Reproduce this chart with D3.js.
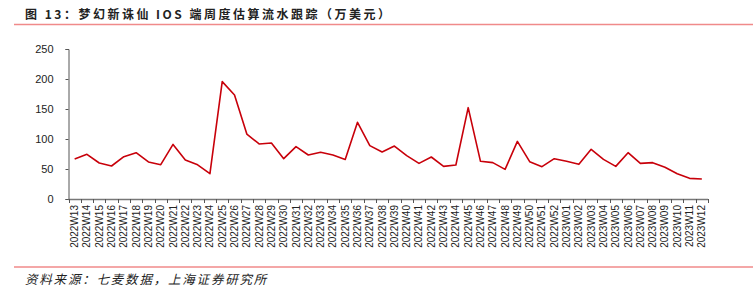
<!DOCTYPE html>
<html>
<head>
<meta charset="utf-8">
<script src="https://cdn.jsdelivr.net/npm/d3@7"></script>
<style>
  body { margin: 0; background: #fff; }
  svg { display: block; }
</style>
</head>
<body>
<div id="chart"></div>
<script>
// weekly estimated iOS revenue, 万美元
let weeks = []
for (let w = 13; w <= 52; w++) weeks.push('2022W' + w)
for (let w = 1; w <= 12; w++) weeks.push('2023W' + (w < 10 ? '0' + w : w))

let revenue = [
  66.7, 74.4, 60, 55, 70.6, 77.2, 61.7, 57.2, 91, 65,
  57, 42.2, 195.6, 173.3, 108.3, 91.7, 93.3, 67.2, 87.2, 73.3,
  77.8, 73.3, 66, 127.8, 88.9, 78.3, 88.3, 72.2, 59.4, 70,
  54.4, 56.7, 152.2, 62.8, 60.6, 49.4, 96, 62.2, 53.9, 67.2,
  62.8, 57.8, 82.8, 66, 54.4, 77.2, 59.4, 60.6, 52.8, 42.2,
  34.4, 33.3
]

let yTicks = [0, 50, 100, 150, 200, 250]

let titleText = '图 13：梦幻新诛仙 IOS 端周度估算流水跟踪（万美元）'
let sourceText = '资料来源：七麦数据，上海证券研究所'

let width = 753, height = 296

let svg = d3.select('#chart').append('svg')
    .attr('width', width)
    .attr('height', height)

let plot = {left: 68.5, right: 708, top: 49, bottom: 199}

// title + rule
svg.append('text')
    .attr('x', 25)
    .attr('y', 19)
    .attr('font-family', 'Noto Sans CJK SC')
    .attr('font-weight', 'bold')
    .attr('font-size', 12)
    .attr('letter-spacing', 2.5)
    .attr('fill', '#222')
    .text(titleText)

svg.append('line')
    .attr('x1', 14).attr('x2', width)
    .attr('y1', 24.5).attr('y2', 24.5)
    .attr('stroke', '#f08a8a')
    .attr('stroke-width', 1.6)

let x = d3.scaleBand()
    .domain(weeks)
    .range([plot.left, plot.right])

let y = d3.scaleLinear()
    .domain([0, 250])
    .range([plot.bottom, plot.top])

// y axis
let yAxis = svg.append('g')
    .attr('transform', 'translate(' + plot.left + ',0)')
    .call(d3.axisLeft(y).tickValues(yTicks).tickSize(3).tickPadding(12))

yAxis.select('.domain').attr('stroke', '#555')
yAxis.selectAll('.tick line').attr('stroke', '#555')
yAxis.selectAll('text')
    .attr('font-family', 'Liberation Sans, Arial')
    .attr('font-size', 11)
    .attr('fill', '#222')

// x axis, ticks on band edges
let xAxis = svg.append('g')
    .attr('transform', 'translate(0,' + plot.bottom + ')')

xAxis.append('line')
    .attr('x1', plot.left).attr('x2', plot.right)
    .attr('y1', 0.5).attr('y2', 0.5)
    .attr('stroke', '#777')
    .attr('stroke-width', 1.5)

let edges = weeks.map(function(d){ return x(d) }).concat([plot.right])

xAxis.selectAll('.xtick')
    .data(edges)
    .enter()
    .append('line')
    .attr('x1', function(d){ return Math.round(d) + 0.5 })
    .attr('x2', function(d){ return Math.round(d) + 0.5 })
    .attr('y1', 0)
    .attr('y2', 4)
    .attr('stroke', '#555')

xAxis.selectAll('.xlabel')
    .data(weeks)
    .enter()
    .append('text')
    .attr('transform', function(d){
        return 'translate(' + (x(d) + x.bandwidth() / 2 + 3.5) + ',6) rotate(-90)'
    })
    .attr('text-anchor', 'end')
    .attr('font-family', 'Liberation Sans, Arial')
    .attr('font-size', 10)
    .attr('fill', '#222')
    .text(function(d){ return d })

// line
let line = d3.line()
    .x(function(d, i){ return x(weeks[i]) + x.bandwidth() / 2 })
    .y(function(d){ return y(d) })

svg.append('path')
    .datum(revenue)
    .attr('fill', 'none')
    .attr('stroke', '#c8000a')
    .attr('stroke-width', 1.6)
    .attr('stroke-linejoin', 'round')
    .attr('d', line)

// source footer
svg.append('line')
    .attr('x1', 14).attr('x2', width)
    .attr('y1', 267).attr('y2', 267)
    .attr('stroke', '#f08a8a')
    .attr('stroke-width', 1.6)

svg.append('text')
    .attr('x', 25)
    .attr('y', 284)
    .attr('font-family', 'Noto Sans CJK SC')
    .attr('font-style', 'italic')
    .attr('font-size', 12.5)
    .attr('letter-spacing', 1.8)
    .attr('fill', '#222')
    .text(sourceText)
</script>
</body>
</html>
